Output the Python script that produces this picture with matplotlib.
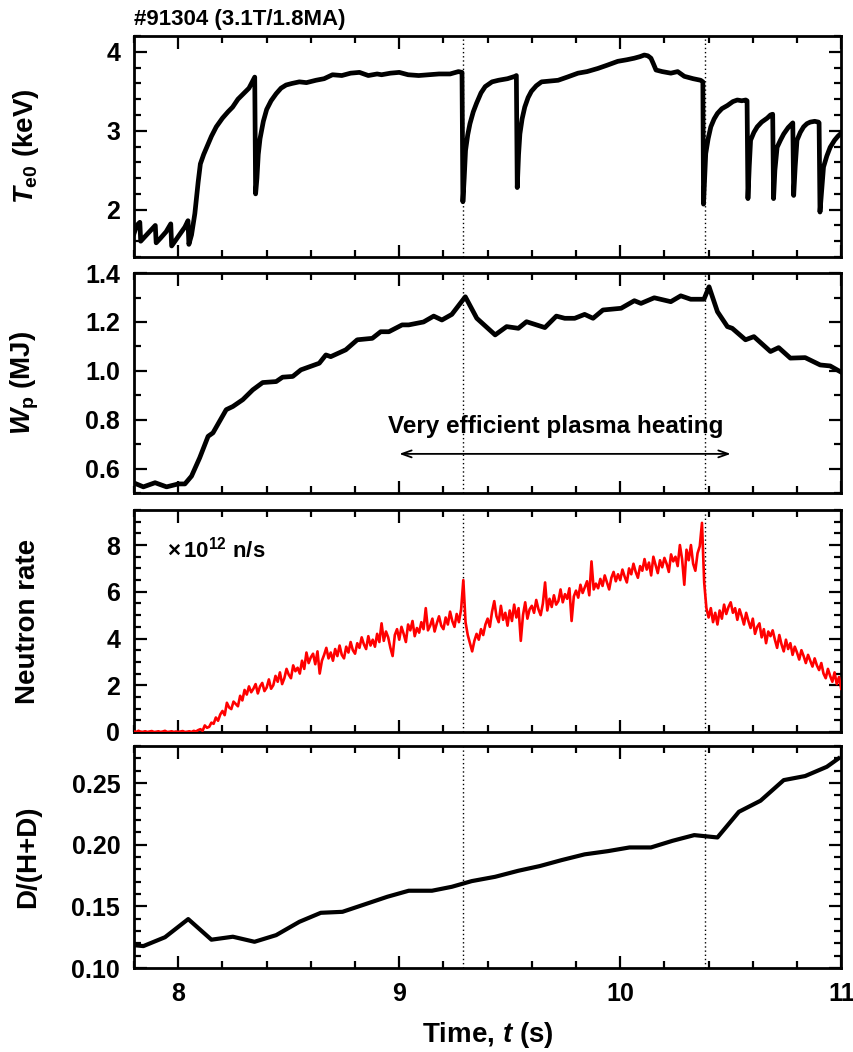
"""Shot #91304 overview: Te0, Wp, neutron rate and D/(H+D) vs. time, four stacked panels."""

import numpy as np
import matplotlib

matplotlib.use("Agg")
import matplotlib.pyplot as plt
from matplotlib.ticker import MultipleLocator, FormatStrFormatter

plt.rcParams["font.family"] = ["Liberation Sans", "DejaVu Sans"]
plt.rcParams["font.weight"] = "bold"
plt.rcParams["mathtext.fontset"] = "custom"
plt.rcParams["mathtext.rm"] = "Liberation Sans:bold"
plt.rcParams["mathtext.bf"] = "Liberation Sans:bold"
plt.rcParams["mathtext.it"] = "Liberation Sans:italic:bold"

SHOT_LABEL = "#91304 (3.1T/1.8MA)"
SAWTOOTH_TIMES = [9.29, 10.385]   # dotted markers

# central electron temperature (keV)
TE_T = [7.800, 7.812, 7.826, 7.830, 7.850, 7.870, 7.896, 7.900, 7.920, 7.945,
        7.966, 7.970, 7.990, 8.010, 8.030, 8.044, 8.048, 8.060, 8.075, 8.090,
        8.100, 8.115, 8.130, 8.150, 8.172, 8.200, 8.225, 8.246, 8.270, 8.295,
        8.320, 8.335, 8.346, 8.350, 8.356, 8.362, 8.370, 8.385, 8.400, 8.420,
        8.443, 8.465, 8.488, 8.515, 8.548, 8.580, 8.623, 8.660, 8.698, 8.740,
        8.780, 8.820, 8.860, 8.900, 8.920, 8.960, 9.000, 9.040, 9.088, 9.133,
        9.180, 9.230, 9.268, 9.284, 9.288, 9.294, 9.300, 9.310, 9.320, 9.335,
        9.350, 9.370, 9.389, 9.420, 9.449, 9.490, 9.524, 9.530, 9.534, 9.540,
        9.546, 9.556, 9.568, 9.583, 9.598, 9.620, 9.644, 9.680, 9.719, 9.760,
        9.809, 9.850, 9.899, 9.940, 9.989, 10.030, 10.064, 10.090, 10.109, 10.125,
        10.139, 10.150, 10.162, 10.190, 10.229, 10.260, 10.290, 10.330, 10.364, 10.374,
        10.377, 10.382, 10.387, 10.398, 10.410, 10.425, 10.440, 10.460, 10.485, 10.510,
        10.530, 10.550, 10.568, 10.574, 10.578, 10.584, 10.590, 10.605, 10.620, 10.640,
        10.665, 10.680, 10.690, 10.694, 10.700, 10.710, 10.725, 10.740, 10.760, 10.777,
        10.781, 10.785, 10.792, 10.800, 10.815, 10.830, 10.845, 10.860, 10.880, 10.897,
        10.900, 10.904, 10.912, 10.920, 10.935, 10.950, 10.970, 10.985, 11.000]
TE_KEV = [1.70, 1.80, 1.84, 1.60, 1.66, 1.72, 1.80, 1.58, 1.64, 1.72,
          1.82, 1.54, 1.62, 1.70, 1.78, 1.86, 1.56, 1.68, 1.95, 2.35,
          2.58, 2.70, 2.80, 2.93, 3.05, 3.16, 3.24, 3.30, 3.40, 3.47,
          3.54, 3.62, 3.68, 2.20, 2.40, 2.70, 2.90, 3.12, 3.27, 3.38,
          3.47, 3.54, 3.58, 3.60, 3.62, 3.61, 3.64, 3.66, 3.71, 3.70,
          3.73, 3.74, 3.70, 3.72, 3.71, 3.73, 3.74, 3.71, 3.70, 3.71,
          3.72, 3.72, 3.75, 3.74, 2.10, 2.40, 2.75, 2.95, 3.09, 3.24,
          3.35, 3.48, 3.56, 3.62, 3.64, 3.66, 3.69, 3.70, 2.28, 2.70,
          2.96, 3.15, 3.30, 3.42, 3.50, 3.57, 3.62, 3.63, 3.64, 3.68,
          3.73, 3.75, 3.79, 3.83, 3.88, 3.90, 3.92, 3.94, 3.96, 3.95,
          3.92, 3.85, 3.77, 3.75, 3.73, 3.75, 3.69, 3.66, 3.64, 3.62,
          2.07, 2.40, 2.71, 2.90, 3.05, 3.15, 3.22, 3.28, 3.32, 3.37,
          3.39, 3.38, 3.39, 3.38, 2.14, 2.55, 2.88, 2.98, 3.05, 3.11,
          3.16, 3.20, 3.21, 2.14, 2.50, 2.79, 2.88, 2.96, 3.04, 3.09,
          3.10, 2.18, 2.55, 2.88, 2.98, 3.05, 3.09, 3.11, 3.12, 3.11,
          3.10, 1.97, 2.25, 2.54, 2.68, 2.79, 2.88, 2.93, 2.97]

# stored energy (MJ)
WP_T = [7.797, 7.842, 7.895, 7.947, 8.000, 8.030, 8.060, 8.097, 8.135, 8.157,
        8.217, 8.247, 8.292, 8.337, 8.382, 8.443, 8.472, 8.518, 8.555, 8.638,
        8.668, 8.690, 8.758, 8.810, 8.878, 8.916, 8.953, 9.013, 9.043, 9.110,
        9.156, 9.193, 9.238, 9.299, 9.351, 9.434, 9.486, 9.539, 9.576, 9.659,
        9.711, 9.749, 9.794, 9.839, 9.877, 9.922, 10.004, 10.064, 10.094, 10.154,
        10.229, 10.274, 10.319, 10.379, 10.402, 10.440, 10.485, 10.507, 10.567, 10.605,
        10.680, 10.717, 10.770, 10.837, 10.905, 10.950, 10.995]
WP_MJ = [0.542, 0.525, 0.542, 0.525, 0.537, 0.537, 0.569, 0.644, 0.732, 0.746,
         0.841, 0.854, 0.882, 0.922, 0.952, 0.956, 0.974, 0.977, 1.004, 1.031,
         1.065, 1.058, 1.086, 1.127, 1.133, 1.160, 1.160, 1.188, 1.188, 1.200,
         1.224, 1.208, 1.231, 1.303, 1.215, 1.147, 1.181, 1.174, 1.201, 1.177,
         1.224, 1.215, 1.215, 1.231, 1.215, 1.249, 1.256, 1.287, 1.276, 1.299,
         1.283, 1.307, 1.293, 1.293, 1.344, 1.242, 1.181, 1.174, 1.127, 1.140,
         1.079, 1.095, 1.052, 1.054, 1.024, 1.020, 0.997]

# neutron rate (1e12 n/s), sampled every 10 ms from 7.80 s; one row per 0.1 s
NEUTRON_T0 = 7.80
NEUTRON_DT = 0.01
NEUTRON = [
    0.02, 0.00, 0.05, 0.01, 0.00, 0.03, 0.00, 0.02, 0.04, 0.00,
    0.01, 0.03, 0.00, 0.02, 0.05, 0.00, 0.01, 0.03, 0.00, 0.02,
    0.00, 0.02, 0.04, 0.00, 0.01, 0.03, 0.00, 0.05, 0.02, 0.08,
    0.12, 0.05, 0.28, 0.18, 0.22, 0.40, 0.35, 0.62, 0.48, 0.75,
    0.90, 0.72, 1.25, 1.05, 0.98, 1.30, 1.20, 1.10, 1.55, 1.35,
    1.80, 1.60, 1.95, 1.70, 1.85, 2.05, 1.65, 1.95, 2.10, 1.75,
    1.90, 2.25, 1.85, 2.00, 2.40, 2.15, 2.55, 2.05, 2.30, 2.70,
    2.45, 2.30, 2.85, 2.60, 2.75, 2.50, 3.05, 2.70, 3.40, 2.95,
    3.20, 3.35, 2.90, 3.45, 2.50, 3.05, 3.30, 3.60, 3.15, 3.40,
    3.05, 3.55, 3.25, 3.70, 3.30, 3.15, 3.65, 3.40, 3.85, 3.50,
    3.35, 3.80, 3.60, 4.05, 3.75, 3.55, 4.10, 3.70, 3.95, 3.65,
    4.20, 3.85, 4.65, 3.90, 4.30, 4.05, 3.60, 3.25, 4.15, 4.40,
    3.95, 4.50, 4.20, 3.85, 4.60, 4.35, 4.75, 4.10, 4.45, 4.25,
    4.70, 4.40, 5.30, 4.35, 4.55, 4.85, 4.30, 4.65, 4.95, 4.55,
    4.40, 4.90, 4.60, 5.15, 4.75, 4.50, 5.05, 4.70, 5.25, 6.50,
    4.70, 4.15, 3.80, 3.45, 3.90, 4.20, 3.95, 4.40, 4.15, 4.60,
    4.85, 4.50, 5.15, 5.60, 4.95, 4.70, 5.40, 4.80, 5.10, 4.55,
    5.20, 4.75, 5.45, 4.90, 5.30, 3.90, 5.00, 5.55, 4.85, 5.25,
    5.40, 5.10, 5.65, 5.25, 5.00, 5.50, 6.40, 5.20, 5.70, 5.35,
    5.85, 5.45, 5.60, 6.10, 5.55, 5.90, 5.70, 6.15, 4.75, 5.80,
    6.05, 5.75, 6.30, 5.95, 6.20, 6.45, 5.85, 7.30, 6.10, 6.35,
    6.15, 6.55, 6.25, 6.70, 6.40, 6.10, 6.60, 6.85, 6.45, 6.75,
    6.50, 6.95, 6.65, 6.40, 7.00, 6.75, 7.20, 6.85, 6.60, 7.10,
    6.90, 7.40, 6.95, 7.25, 6.70, 7.50, 7.15, 6.80, 7.35, 7.05,
    7.45, 7.20, 6.85, 7.60, 7.30, 7.50, 7.10, 8.00, 7.40, 6.30,
    7.80, 7.35, 8.00, 7.20, 6.90, 7.65, 7.95, 8.95, 6.40, 5.30,
    4.90, 5.30, 4.70, 5.10, 4.60, 5.20, 4.85, 5.45, 5.05, 5.35,
    5.55, 5.10, 5.30, 4.80, 5.25, 4.95, 4.60, 5.10, 4.75, 4.45,
    4.85, 4.20, 4.50, 4.65, 4.05, 4.40, 3.80, 4.30, 4.10, 4.35,
    3.95, 3.60, 4.15, 3.75, 3.45, 3.95, 3.55, 3.80, 3.30, 3.65,
    3.40, 3.10, 3.50, 3.25, 2.95, 3.30, 3.05, 2.80, 3.15, 2.85,
    2.65, 2.95, 2.50, 2.30, 2.70, 2.40, 2.15, 2.55, 2.05, 2.35,
    1.85,
]

# deuterium fraction D/(H+D)
DF_T = [7.797, 7.842, 7.940, 8.045, 8.150, 8.247, 8.345, 8.443, 8.548, 8.645,
        8.743, 8.848, 8.946, 9.043, 9.148, 9.238, 9.328, 9.434, 9.539, 9.636,
        9.734, 9.839, 9.944, 10.042, 10.139, 10.237, 10.335, 10.440, 10.537, 10.635,
        10.740, 10.837, 10.935, 10.988]
DF = [0.1186, 0.1178, 0.1250, 0.1397, 0.1230, 0.1254, 0.1213, 0.1267, 0.1375, 0.1448,
      0.1456, 0.1519, 0.1578, 0.1627, 0.1627, 0.1659, 0.1705, 0.1740, 0.1789, 0.1827,
      0.1875, 0.1922, 0.1948, 0.1978, 0.1978, 0.2032, 0.2078, 0.2059, 0.2267, 0.2357,
      0.2524, 0.2557, 0.2632, 0.2700]

TICK_FS = 18
LABEL_FS = 20


def _style(ax, ylim, major, minor, fmt, ylabel):
    ax.set_xlim(7.8, 11.0)
    ax.set_ylim(*ylim)
    ax.xaxis.set_major_locator(MultipleLocator(1))
    ax.xaxis.set_minor_locator(MultipleLocator(0.2))
    ax.yaxis.set_major_locator(MultipleLocator(major))
    ax.yaxis.set_minor_locator(MultipleLocator(minor))
    ax.yaxis.set_major_formatter(FormatStrFormatter(fmt))
    ax.tick_params(which="both", direction="in", top=True, right=True,
                   width=1.6, labelsize=TICK_FS, pad=10)
    ax.tick_params(which="major", length=9)
    ax.tick_params(which="minor", length=5)
    for sp in ax.spines.values():
        sp.set_linewidth(2)
    ax.set_ylabel(ylabel, fontsize=LABEL_FS, fontweight="bold")
    ax.yaxis.set_label_coords(-0.131, 0.5)
    for t in SAWTOOTH_TIMES:
        ax.axvline(t, color="black", linestyle=(0, (1, 2)), linewidth=1.0, zorder=1)


def main():
    fig = plt.figure(figsize=(8.54, 10.52), dpi=100)
    left, width = 0.157, 0.828
    boxes = [(0.7557, 0.210), (0.5314, 0.209), (0.3042, 0.211), (0.0798, 0.211)]
    axes = [fig.add_axes([left, b, width, h]) for b, h in boxes]

    ax = axes[0]
    ax.plot(TE_T, TE_KEV, color="black", linewidth=3.4, zorder=3)
    _style(ax, (1.4, 4.2), 1, 0.2, "%d", r"$T_{\rm e0}$ (keV)")

    ax = axes[1]
    ax.plot(WP_T, WP_MJ, color="black", linewidth=3.4, zorder=3)
    _style(ax, (0.5, 1.4), 0.2, 0.1, "%.1f", r"$W_{\rm p}$ (MJ)")
    ax.text(9.71, 0.771, "Very efficient plasma heating", ha="center", va="center",
            fontsize=17.5, fontweight="bold")
    ax.annotate("", xy=(10.5, 0.66), xytext=(9.0, 0.66),
                arrowprops=dict(arrowstyle="<->,head_length=0.7,head_width=0.25",
                                color="black", lw=1.3, shrinkA=0, shrinkB=0))

    ax = axes[2]
    t_n = NEUTRON_T0 + NEUTRON_DT * np.arange(len(NEUTRON))
    ax.plot(t_n, NEUTRON, color="#ff0000", linewidth=1.9, zorder=3)
    _style(ax, (0, 9.5), 2, 0.5, "%d", "Neutron rate")
    ax.text(7.95, 7.8, r"$\times\,10^{12}$ n/s", ha="left", va="center",
            fontsize=16, fontweight="bold")

    ax = axes[3]
    ax.plot(DF_T, DF, color="black", linewidth=3.0, zorder=3)
    _style(ax, (0.10, 0.28), 0.05, 0.01, "%.2f", "D/(H+D)")
    ax.set_xlabel(r"Time, $t$ (s)", fontsize=LABEL_FS, fontweight="bold")
    ax.xaxis.set_label_coords(0.5, -0.235)

    for ax in axes[:3]:
        ax.tick_params(labelbottom=False)

    fig.text(left, 0.981, SHOT_LABEL, ha="left", va="center", fontsize=16,
             fontweight="bold")
    fig.savefig("out.png", dpi=100, facecolor="white")
    plt.close(fig)


if __name__ == "__main__":
    main()
